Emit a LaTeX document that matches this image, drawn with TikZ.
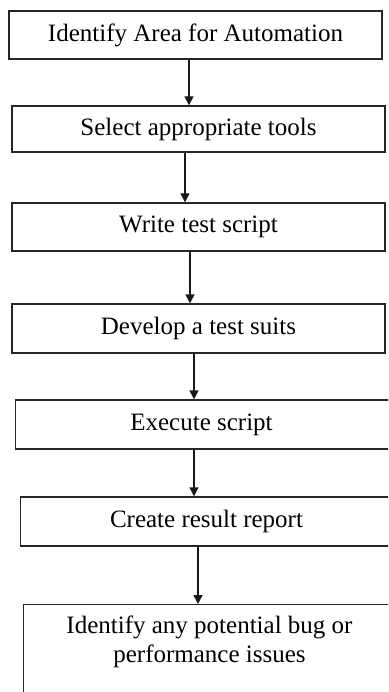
\documentclass[tikz,border=0pt]{standalone}
\usepackage{fontspec}
\setmainfont{Liberation Serif}
\usetikzlibrary{arrows.meta}
\begin{document}
\begin{tikzpicture}[x=1pt,y=-1pt,
  box/.style={draw=black!85, line width=1.4pt, minimum width=373pt, inner sep=0pt, font=\fontsize{25}{29}\selectfont},
  lbl/.style={inner sep=0pt, align=center, font=\fontsize{25}{29}\selectfont},
  arr/.style={draw=black!90, line width=1.4pt, -{Triangle[width=9pt,length=9pt]}}]
\useasboundingbox (0,0) rectangle (388,692);
\clip (0,0) rectangle (388,692);
\node[box, minimum height=48pt] (b1) at (195.5,35) {Identify Area for Automation};
\node[box, minimum height=46pt] (b2) at (198.5,129) {Select appropriate tools};
\node[box, minimum height=48pt] (b3) at (198.5,227) {Write test script};
\node[box, minimum height=49pt] (b4) at (198.5,328.5) {Develop a test suits};
\node[box, minimum height=49pt, minimum width=400pt, anchor=west] (b5) at (15,424.5) {};
\node[lbl] (t5) at (201.5,424.5) {Execute script};
\node[box, minimum height=49pt, minimum width=400pt, anchor=west] (b6) at (20,521.5) {};
\node[lbl] (t6) at (206.5,521.5) {Create result report};
\node[box, minimum height=140pt, minimum width=400pt, anchor=north west] (b7) at (23,604) {};
\node[lbl, anchor=north] (t7) at (209.5,616) {Identify any potential bug or\\performance issues};
\draw[arr] (b1.south -| 189,0) -- (b2.north -| 189,0);
\draw[arr] (b2.south -| 185,0) -- (b3.north -| 185,0);
\draw[arr] (b3.south -| 190,0) -- (b4.north -| 190,0);
\draw[arr] (b4.south -| 194,0) -- (b5.north -| 194,0);
\draw[arr] (b5.south -| 194,0) -- (b6.north -| 194,0);
\draw[arr] (b6.south -| 198,0) -- (b7.north -| 198,0);
\end{tikzpicture}
\end{document}
